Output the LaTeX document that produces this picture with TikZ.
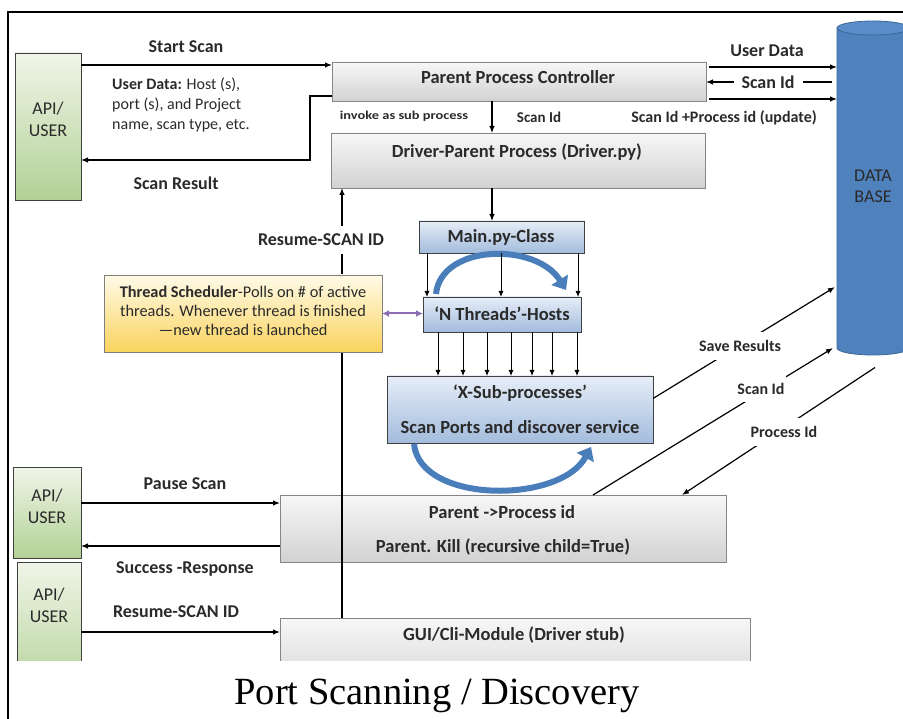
\documentclass[tikz,border=0pt]{standalone}
\usepackage{fontspec}
\setmainfont{Carlito}
\newfontfamily\capfont{Liberation Serif}
\usetikzlibrary{arrows.meta,calc}
\definecolor{dbblue}{HTML}{4F81BD}
\definecolor{dbtop}{HTML}{5B8DC9}
\definecolor{dbline}{HTML}{3A6696}
\definecolor{gtop}{HTML}{F7F7F7}
\definecolor{gbot}{HTML}{D2D2D2}
\definecolor{boxgray}{HTML}{858585}
\definecolor{btop}{HTML}{E6EDF7}
\definecolor{bbot}{HTML}{A3BCDD}
\definecolor{bborder}{HTML}{404040}
\definecolor{grtop}{HTML}{F0F5E8}
\definecolor{grbot}{HTML}{B2D196}
\definecolor{ytop}{HTML}{FFFAE8}
\definecolor{ybot}{HTML}{FAD45E}
\definecolor{ybord}{HTML}{7F7F7F}
\definecolor{swirlblue}{HTML}{4A7EBB}
\definecolor{purp}{HTML}{8C6FB0}
\definecolor{txtgray}{HTML}{2A2A2A}
\begin{document}
\begin{tikzpicture}[x=1pt,y=-1pt]
\tikzset{
 boxbase/.style={draw, line width=0.9pt, inner sep=0pt, outer sep=0pt},
 graybox/.style={boxbase, draw=boxgray, top color=gtop, bottom color=gbot},
 bluebox/.style={boxbase, draw=bborder, top color=btop, bottom color=bbot},
 greenbox/.style={boxbase, draw=bborder, top color=grtop, bottom color=grbot},
 yellowbox/.style={boxbase, draw=ybord, top color=ytop, bottom color=ybot},
 arr/.style={line width=1.2pt, -{Latex[length=7pt,width=5.5pt]}},
 thinarr/.style={line width=0.9pt, -{Latex[length=6pt,width=5pt]}},
 ttl/.style={font=\fontsize{18.5}{22}\selectfont\bfseries, text=txtgray, inner sep=1pt},
 lbl/.style={font=\fontsize{18}{21}\selectfont\bfseries, text=txtgray, inner sep=1pt},
 sml/.style={font=\fontsize{16}{19}\selectfont\bfseries, text=txtgray, inner sep=1pt},
 apitxt/.style={font=\fontsize{18}{22}\selectfont, text=txtgray, align=center, inner sep=1pt},
 gapfill/.style={fill=white},
 swirl/.style={line width=6pt, draw=swirlblue, -{Triangle[length=12pt,width=19pt]}},
}
\useasboundingbox (0,0) rectangle (903,719);
% frame
\draw[line width=2.6pt] (8,719) -- (8,12) -- (903,12);

% database cylinder
\fill[dbblue] (837,28) -- (837,348) arc[start angle=180,end angle=360,x radius=36pt,y radius=7pt] -- (909,28) -- cycle;
\draw[dbline, line width=0.8pt] (837,28) -- (837,348) arc[start angle=180,end angle=360,x radius=36pt,y radius=7pt] -- (909,28);
\draw[dbline, line width=0.8pt, fill=dbtop] (873,28) ellipse[x radius=36pt,y radius=7pt];
\node[minimum width=72pt, minimum height=327pt, inner sep=0pt, outer sep=0pt, font=\fontsize{18}{21}\selectfont, text=txtgray, align=center] (db) at (873,186) {DATA\\BASE};

% boxes
\node[greenbox, minimum width=66pt, minimum height=147pt] (api1) at (48,126.5) {};
\node[greenbox, minimum width=68pt, minimum height=91pt] (api2) at (47,512.5) {};
\node[graybox, minimum width=374pt, minimum height=39pt] (ppc) at (519,81.5) {};
\node[graybox, minimum width=374pt, minimum height=55pt] (driver) at (518,160.5) {};
\node[bluebox, minimum width=165pt, minimum height=32pt] (main) at (501.5,237) {};
\node[bluebox, minimum width=158pt, minimum height=35pt] (nth) at (502,314.5) {};
\node[bluebox, minimum width=266pt, minimum height=67pt] (xsub) at (520,409.5) {};
\node[graybox, minimum width=446pt, minimum height=67pt] (par) at (503,528.5) {};
\begin{scope}
\clip (0,0) rectangle (903,660);
\node[greenbox, minimum width=64pt, minimum height=138pt] (api3) at (49,631) {};
\node[graybox, minimum width=470pt, minimum height=82pt] (gui) at (515,659) {};
\end{scope}

% box texts
\node[apitxt] (api1t) at (48,119) {API/\\USER};
\node[apitxt] (api2t) at (47,506) {API/\\USER};
\node[apitxt] (api3t) at (49,605) {API/\\USER};
\node[ttl] (ppct) at (518,77) {Parent Process Controller};
\node[ttl] (drivert) at (517,152) {Driver-Parent Process (Driver.py)};
\node[ttl] (maint) at (501,237) {Main.py-Class};
\node[ttl] (ntht) at (502,314) {‘N Threads’-Hosts};
\node[ttl] (xsubt1) at (520,393) {‘X-Sub-processes’};
\node[ttl] (xsubt2) at (520,427) {Scan Ports and discover service};
\node[ttl] (part1) at (502,512) {Parent ->Process id};
\node[ttl] (part2) at (503,547) {Parent. Kill (recursive child=True)};
\node[ttl] (guit) at (514,635) {GUI/Cli-Module (Driver stub)};

% swirl arrows
\draw[swirl] (436,294) .. controls (441,244) and (536,242) .. (566,290);
\draw[swirl] (414,444) .. controls (420,504) and (560,504) .. (591,447);

% top-left connectors
\coordinate (ss) at (0,65);
\draw[arr] (ss -| api1.east) -- (ss -| ppc.west);
\node[lbl] (sst) at (186,47) {Start Scan};
\coordinate (sr0) at ($(ppc.south west)+(0,-5)$);
\coordinate (sr1) at (310,160);
\draw[arr] (sr0) -| (sr1) -- (sr1 -| api1.east);
\node[lbl] (srt) at (176,183) {Scan Result};
\node[font=\fontsize{16}{20}\selectfont, text=txtgray, align=left, anchor=north west, inner sep=0pt] (udt) at (112,78)
 {\textbf{User Data:} Host (s),\\port (s), and Project\\name, scan type, etc.};

% top-right connectors to database
\coordinate (u1) at (709,67);
\draw[arr] (u1) -- (u1 -| db.west);
\node[lbl] (u1t) at (767,51) {User Data};
\coordinate (u2) at (832,82);
\draw[arr] (u2) -- (u2 -| ppc.east);
\node[lbl, gapfill, inner xsep=8pt] (u2t) at (768,82) {Scan Id};
\coordinate (u3) at (709,99);
\draw[arr] (u3) -- (u3 -| db.west);
\node[sml] (u3t) at (724,118) {Scan Id +Process id (update)};

% vertical chain
\coordinate (cx) at (492,0);
\draw[arr] (cx |- ppc.south) -- (cx |- driver.north);
\node[font=\fontsize{12}{14}\selectfont\bfseries, text=txtgray, inner sep=1pt] (inv) at (404,116) {\scalebox{1.2}[1]{invoke as sub process}};
\node[font=\fontsize{15}{18}\selectfont\bfseries, text=txtgray, inner sep=1pt] (sid) at (539,117) {Scan Id};
\draw[arr] (cx |- driver.south) -- (cx |- main.north);
\foreach \xx/\nm in {427/a,501/b,578/c}{
  \coordinate (m\nm) at (\xx,0);
  \draw[thinarr] (m\nm |- main.south) -- (m\nm |- nth.north);
}
\foreach \xx/\nm in {438/a,463/b,487/c,511/d,532/e,552/f,577/g}{
  \coordinate (t\nm) at (\xx,0);
  \draw[thinarr] (t\nm |- nth.south) -- (t\nm |- xsub.north);
}

% diagonal connectors to/from database
\draw[arr] ($(xsub.east)+(0,-11)$) -- ($(db.west)+(-2,101)$);
\node[sml, gapfill, inner ysep=8pt] (svt) at (740,346) {Save Results};
\draw[arr] ($(par.north)+(90,0)$) -- ($(db.west)+(-4,162)$);
\node[sml, gapfill, inner ysep=7pt] (sct) at (761,389) {Scan Id};
\draw[arr] ($(db.south)+(2,18)$) -- ($(par.north)+(179,0)$);
\node[sml, gapfill, inner ysep=8pt] (pct) at (784,432) {Process Id};

% bottom-left connectors
\coordinate (ps) at (0,503);
\draw[arr] (ps -| api2.east) -- (ps -| par.west);
\node[lbl] (pst) at (185,484) {Pause Scan};
\coordinate (sc) at (0,546);
\draw[arr] (sc -| par.west) -- (sc -| api2.east);
\node[lbl] (sct2) at (185,569) {Success -Response};
\coordinate (rs) at (0,632);
\draw[arr] (rs -| api3.east) -- (rs -| gui.west);
\node[lbl] (rst) at (176,612) {Resume-SCAN ID};

% resume line up to driver
\coordinate (vx) at (342,0);
\draw[arr] (vx |- gui.north) -- (vx |- driver.south);
\node[lbl, gapfill, inner ysep=8pt] (rst2) at (321,240) {Resume-SCAN ID};

% thread scheduler
\node[yellowbox, minimum width=278pt, minimum height=77pt] (ys) at (243,313.5) {};
\node[font=\fontsize{16.3}{19}\selectfont, text=txtgray, align=center, inner sep=0pt] (yst) at (243,311)
 {\textbf{Thread Scheduler}-Polls on \# of active\\threads. Whenever thread is finished\\—new thread is launched};
\draw[purp, line width=2pt, {Latex[length=7pt,width=7pt]}-{Latex[length=7pt,width=7pt]}] (ys.east) -- (ys.east -| nth.west);

% caption
\node[font=\capfont\fontsize{38.5}{44}\selectfont] (cap) at (437,696) {Port Scanning / Discovery};
\end{tikzpicture}
\end{document}
